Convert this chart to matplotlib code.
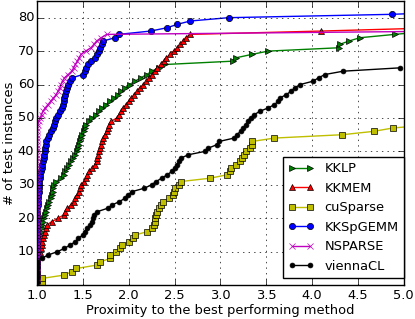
import numpy as np
import matplotlib
matplotlib.use("Agg")
import matplotlib.pyplot as plt

plt.style.use("classic")
plt.rcParams["font.size"] = 9.4
plt.rcParams["xtick.major.pad"] = 3
plt.rcParams["ytick.major.pad"] = 2

## ratio to best method, one value per test instance (sorted)
kklp = [1.0]*10 + [1.005, 1.01, 1.015, 1.02, 1.03, 1.04, 1.05, 1.06, 1.07, 1.08,
	1.09, 1.10, 1.11, 1.12, 1.13, 1.15, 1.16, 1.17, 1.18, 1.19,
	1.21, 1.26, 1.29, 1.31, 1.33, 1.35, 1.37, 1.39, 1.42, 1.44,
	1.45, 1.46, 1.47, 1.48, 1.49, 1.51, 1.52, 1.54, 1.57, 1.60,
	1.64, 1.68, 1.71, 1.75, 1.80, 1.84, 1.88, 1.92, 1.96, 2.01,
	2.07, 2.13, 2.20, 2.25, 2.33, 2.40, 3.14, 3.17, 3.34, 3.52,
	4.29, 4.30, 4.40, 4.52, 4.90, 5.30]

kkmem = [1.0]*8 + [1.02, 1.03, 1.04, 1.05, 1.06, 1.07, 1.08, 1.09, 1.10, 1.11,
	1.16, 1.23, 1.29, 1.31, 1.33, 1.37, 1.40, 1.42, 1.44, 1.46,
	1.47, 1.48, 1.51, 1.53, 1.55, 1.57, 1.60, 1.63, 1.65, 1.66,
	1.67, 1.68, 1.69, 1.70, 1.71, 1.72, 1.74, 1.76, 1.78, 1.79,
	1.81, 1.87, 1.90, 1.92, 1.94, 1.97, 2.00, 2.03, 2.06, 2.09,
	2.12, 2.16, 2.19, 2.22, 2.26, 2.29, 2.31, 2.35, 2.38, 2.41,
	2.45, 2.49, 2.53, 2.56, 2.59, 2.62, 2.67, 4.10, 5.40]

cusparse = [1.05, 1.05, 1.29, 1.38, 1.43, 1.65, 1.69, 1.80, 1.80, 1.86,
	1.91, 1.93, 2.00, 2.05, 2.07, 2.20, 2.26, 2.28, 2.29, 2.29,
	2.30, 2.31, 2.33, 2.35, 2.37, 2.44, 2.48, 2.49, 2.51, 2.55,
	2.57, 2.89, 3.07, 3.10, 3.12, 3.17, 3.21, 3.24, 3.26, 3.28,
	3.32, 3.34, 3.35, 3.59, 4.33, 4.67, 4.88, 5.30]

kkspgemm = [1.0]*22 + [1.005, 1.008, 1.01, 1.012, 1.015, 1.018, 1.02, 1.022, 1.025, 1.028,
	1.03, 1.04, 1.05, 1.06, 1.07, 1.075, 1.08, 1.085, 1.09, 1.095,
	1.10, 1.12, 1.13, 1.15, 1.17, 1.19, 1.20, 1.21, 1.23, 1.25,
	1.27, 1.28, 1.29, 1.30, 1.31, 1.32, 1.33, 1.34, 1.36, 1.38,
	1.50, 1.52, 1.53, 1.56, 1.59, 1.63, 1.66, 1.68, 1.69, 1.71,
	1.72, 1.85, 1.89, 2.24, 2.42, 2.53, 2.67, 3.09, 4.87, 5.80]

nsparse = [1.0]*47 + [1.01, 1.02, 1.035, 1.05, 1.065, 1.09, 1.12, 1.15, 1.18, 1.21,
	1.23, 1.25, 1.26, 1.28, 1.30, 1.34, 1.38, 1.40, 1.42, 1.44,
	1.46, 1.48, 1.53, 1.59, 1.62, 1.65, 1.70, 1.76, 5.60]

viennacl = [1.0]*7 + [1.05, 1.12, 1.22, 1.30, 1.36, 1.42, 1.45, 1.50, 1.52, 1.55,
	1.58, 1.60, 1.61, 1.62, 1.66, 1.77, 1.82, 1.90, 1.96, 1.99,
	2.04, 2.17, 2.25, 2.30, 2.36, 2.42, 2.47, 2.50, 2.53, 2.55,
	2.57, 2.65, 2.83, 2.87, 2.96, 2.99, 3.15, 3.18, 3.22, 3.25,
	3.28, 3.30, 3.33, 3.37, 3.43, 3.52, 3.59, 3.63, 3.65, 3.72,
	3.77, 3.81, 3.87, 4.01, 4.07, 4.14, 4.34, 4.96]

methods = ["KKLP", "KKMEM", "cuSparse", "KKSpGEMM", "NSPARSE", "viennaCL"]
ratios = [kklp, kkmem, cusparse, kkspgemm, nsparse, viennacl]
styles = ["g>-", "r^-", "ys-", "bo-", "mx-", "k.-"]

fig = plt.figure(figsize=(4.15, 3.19), dpi=100, facecolor="white")
ax = fig.add_axes([0.089, 0.106, 0.884, 0.891])

for name, r, st in zip(methods, ratios, styles):
	r = np.sort(r)
	cnt = np.arange(1, len(r) + 1)
	ms = 4.5
	if st[1] == ".":
		ms = 7
	if st[1] == "x":
		ms = 4
	ax.plot(r, cnt, st, label=name, markersize=ms)

ax.set_xlim(1.0, 5.0)
ax.set_ylim(0, 85)
ax.set_xticks(np.arange(1.0, 5.01, 0.5))
ax.set_yticks([10, 20, 30, 40, 50, 60, 70, 80])
ax.grid(True)
ax.set_xlabel("Proximity to the best performing method", labelpad=1)
ax.set_ylabel("# of test instances", labelpad=1)
ax.legend(loc="lower right", bbox_to_anchor=(1.0, 0.025), borderaxespad=0.0, fontsize=9.4)

plt.savefig("out.png", dpi=100, facecolor="white")
